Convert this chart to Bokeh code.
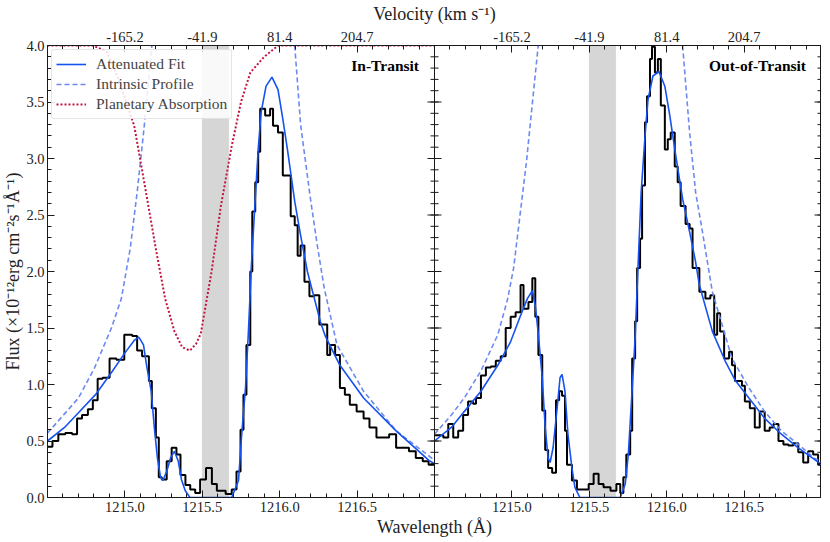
import numpy as np
from bokeh.plotting import figure
from bokeh.models import (Range1d, LinearAxis, FixedTicker, BoxAnnotation, Span,
                          Legend, LegendItem, Label)
from bokeh.embed import file_html
from bokeh.resources import INLINE

nan = float("nan")

# ---------------- data ----------------
WL_MIN, WL_MAX = 1214.5, 1217.0
FLUX_MIN, FLUX_MAX = 0.0, 4.0
MASK_LO, MASK_HI = 1215.50, 1215.67

panel_names = ["In-Transit", "Out-of-Transit"]
legend_labels = ["Attenuated Fit", "Intrinsic Profile", "Planetary Absorption"]

wl_ticks = [1215.0, 1215.5, 1216.0, 1216.5]
wl_tick_labels = ["1215.0", "1215.5", "1216.0", "1216.5"]
vel_tick_labels = ["-165.2", "-41.9", "81.4", "204.7"]
flux_ticks = [0.0, 0.5, 1.0, 1.5, 2.0, 2.5, 3.0, 3.5, 4.0]
flux_tick_labels = ["0.0", "0.5", "1.0", "1.5", "2.0", "2.5", "3.0", "3.5", "4.0"]

# In-transit observed spectrum (bin left edges, flux)
it_wl = [1214.500, 1214.532, 1214.570, 1214.615, 1214.659, 1214.691, 1214.723, 1214.761,
         1214.793, 1214.824, 1214.856, 1214.901, 1214.945, 1214.996, 1215.047, 1215.079,
         1215.111, 1215.155, 1215.174, 1215.200, 1215.219, 1215.238, 1215.270, 1215.302,
         1215.333, 1215.359, 1215.391, 1215.422, 1215.454, 1215.486, 1215.524, 1215.562,
         1215.594, 1215.651, 1215.690, 1215.721, 1215.747, 1215.766, 1215.785, 1215.810,
         1215.823, 1215.842, 1215.861, 1215.874, 1215.906, 1215.938, 1215.957, 1215.989,
         1216.020, 1216.071, 1216.097, 1216.116, 1216.135, 1216.160, 1216.192, 1216.224,
         1216.256, 1216.307, 1216.326, 1216.358, 1216.389, 1216.421, 1216.453, 1216.497,
         1216.542, 1216.580, 1216.625, 1216.707, 1216.752, 1216.835, 1216.879, 1216.924,
         1216.962]
it_flux = [0.45, 0.50, 0.56, 0.57, 0.56, 0.70, 0.73, 0.78, 0.86, 1.05, 1.06, 1.23, 1.22,
           1.44, 1.43, 1.30, 1.25, 1.03, 0.79, 0.53, 0.18, 0.16, 0.32, 0.44, 0.38, 0.20,
           0.11, 0.07, 0.04, 0.16, 0.26, 0.12, 0.06, 0.03, 0.07, 0.23, 0.60, 0.91, 1.35,
           2.00, 2.53, 2.79, 3.06, 3.44, 3.38, 3.44, 3.29, 3.23, 2.85, 2.49, 2.41, 2.14,
           2.23, 1.91, 1.78, 1.79, 1.53, 1.26, 1.35, 1.26, 0.97, 0.91, 0.82, 0.76, 0.70,
           0.62, 0.53, 0.56, 0.44, 0.41, 0.35, 0.32, 0.29]

# Out-of-transit observed spectrum
ot_wl = [1214.500, 1214.526, 1214.557, 1214.589, 1214.621, 1214.653, 1214.685, 1214.717,
         1214.749, 1214.768, 1214.800, 1214.832, 1214.864, 1214.896, 1214.928, 1214.960,
         1214.992, 1215.024, 1215.056, 1215.075, 1215.107, 1215.132, 1215.151, 1215.171,
         1215.196, 1215.215, 1215.234, 1215.260, 1215.285, 1215.305, 1215.324, 1215.343,
         1215.356, 1215.388, 1215.420, 1215.464, 1215.496, 1215.528, 1215.560, 1215.592,
         1215.637, 1215.675, 1215.700, 1215.720, 1215.739, 1215.764, 1215.777, 1215.796,
         1215.809, 1215.828, 1215.841, 1215.860, 1215.873, 1215.892, 1215.905, 1215.924,
         1215.943, 1215.962, 1215.988, 1216.007, 1216.026, 1216.052, 1216.071, 1216.090,
         1216.122, 1216.148, 1216.167, 1216.211, 1216.250, 1216.282, 1216.307, 1216.326,
         1216.345, 1216.371, 1216.403, 1216.422, 1216.441, 1216.486, 1216.505, 1216.537,
         1216.569, 1216.601, 1216.633, 1216.665, 1216.690, 1216.722, 1216.754, 1216.786,
         1216.818, 1216.850, 1216.882, 1216.914, 1216.946, 1216.978]
ot_flux = [0.55, 0.55, 0.53, 0.65, 0.53, 0.59, 0.73, 0.85, 0.83, 0.88, 1.08, 1.15, 1.16,
           1.21, 1.25, 1.50, 1.60, 1.64, 1.88, 1.67, 1.73, 1.94, 1.60, 1.26, 0.77, 0.42,
           0.26, 0.22, 0.86, 0.94, 0.90, 0.59, 0.29, 0.15, 0.07, 0.07, 0.12, 0.21, 0.12,
           0.09, 0.06, 0.12, 0.04, 0.18, 0.38, 0.59, 1.23, 1.56, 2.03, 2.29, 2.76, 3.32,
           3.55, 3.88, 3.99, 3.76, 3.88, 3.47, 3.08, 3.17, 3.23, 2.93, 2.79, 2.58, 2.42,
           2.38, 2.03, 1.82, 1.76, 1.79, 1.44, 1.63, 1.47, 1.23, 1.29, 1.17, 1.03, 0.99,
           0.85, 0.79, 0.62, 0.76, 0.59, 0.62, 0.65, 0.50, 0.47, 0.46, 0.48, 0.40, 0.31,
           0.41, 0.38, 0.29]

# Attenuated fits
it_fit_wl = [1214.50, 1214.61, 1214.70, 1214.81, 1214.92, 1215.00, 1215.06, 1215.09, 1215.12,
             1215.14, 1215.17, 1215.19, 1215.21, 1215.23, 1215.245, 1215.27, 1215.295, 1215.32,
             1215.345, 1215.365, 1215.39, 1215.42, 1215.69, 1215.734, 1215.753, 1215.779,
             1215.798, 1215.817, 1215.842, 1215.861, 1215.880, 1215.912, 1215.950, 1215.989,
             1216.020, 1216.052, 1216.097, 1216.135, 1216.179, 1216.224, 1216.262, 1216.294,
             1216.33, 1216.389, 1216.542, 1216.752, 1216.962, 1217.00]
it_fit_flux = [0.50, 0.62, 0.75, 0.91, 1.12, 1.28, 1.39, 1.42, 1.35, 1.17, 0.94, 0.62, 0.35,
               0.18, 0.15, 0.23, 0.35, 0.41, 0.32, 0.16, 0.06, 0.0, 0.0, 0.15, 0.53, 0.97,
               1.47, 2.05, 2.64, 3.08, 3.41, 3.64, 3.72, 3.61, 3.35, 3.06, 2.62, 2.32, 2.00,
               1.76, 1.56, 1.43, 1.33, 1.17, 0.88, 0.59, 0.33, 0.30]
ot_fit_wl = [1214.500, 1214.609, 1214.692, 1214.800, 1214.909, 1214.992, 1215.056, 1215.100,
             1215.132, 1215.151, 1215.171, 1215.196, 1215.215, 1215.234, 1215.247, 1215.266,
             1215.292, 1215.311, 1215.324, 1215.343, 1215.362, 1215.388, 1215.407, 1215.439,
             1215.700, 1215.732, 1215.752, 1215.771, 1215.796, 1215.815, 1215.835, 1215.860,
             1215.879, 1215.911, 1215.950, 1215.988, 1216.020, 1216.058, 1216.103, 1216.148,
             1216.186, 1216.211, 1216.295, 1216.377, 1216.441, 1216.531, 1216.633, 1216.741,
             1216.850, 1216.952, 1217.000]
ot_fit_flux = [0.50, 0.62, 0.76, 0.94, 1.17, 1.38, 1.61, 1.76, 1.83, 1.70, 1.44, 1.06, 0.62,
               0.35, 0.31, 0.44, 0.79, 1.06, 1.09, 0.94, 0.56, 0.26, 0.09, 0.0, 0.0, 0.12,
               0.38, 0.82, 1.41, 2.05, 2.70, 3.20, 3.52, 3.73, 3.77, 3.64, 3.38, 3.03, 2.64,
               2.35, 2.09, 1.88, 1.47, 1.21, 1.04, 0.88, 0.70, 0.56, 0.44, 0.34, 0.29]

# Intrinsic (unattenuated) profiles; nan = section above the plotted range
it_int_wl = [1214.500, 1214.700, 1214.805, 1214.913, 1214.977, 1215.034, 1215.079, 1215.123,
             1215.174, nan, 1216.097, 1216.135, 1216.199, 1216.243, 1216.288, 1216.370,
             1216.542, 1216.752, 1217.000]
it_int_flux = [0.57, 0.88, 1.15, 1.50, 1.76, 2.20, 2.70, 3.26, 4.00, nan, 4.00, 3.30, 2.64,
               2.23, 1.85, 1.35, 0.94, 0.59, 0.33]
ot_int_wl = [1214.500, 1214.609, 1214.692, 1214.800, 1214.909, 1214.973, 1215.011, 1215.094,
             1215.170, nan, 1216.103, 1216.148, 1216.187, 1216.231, 1216.295, 1216.422,
             1216.531, 1216.633, 1216.741, 1216.850, 1216.952, 1217.000]
ot_int_flux = [0.56, 0.73, 0.88, 1.12, 1.44, 1.76, 2.03, 2.97, 4.00, nan, 4.00, 3.23, 2.70,
               2.35, 1.82, 1.23, 0.97, 0.76, 0.59, 0.47, 0.35, 0.31]

# Planetary absorption (scaled transmission), in-transit only
abs_wl = [1214.50, 1214.79, 1214.88, 1214.96, 1215.06, 1215.13, 1215.20, 1215.26, 1215.32,
          1215.37, 1215.42, 1215.46, 1215.49, 1215.56, 1215.62, 1215.69, 1215.75, 1215.81,
          1215.90, 1215.99, 1217.00]
abs_flux = [4.00, 4.00, 3.95, 3.70, 3.29, 2.75, 2.20, 1.76, 1.47, 1.33, 1.30, 1.36, 1.45,
            2.00, 2.58, 3.11, 3.50, 3.76, 3.90, 4.00, 4.00]

# ---------------- styling ----------------
FONT = "Liberation Serif"
SHIFT = WL_MAX - WL_MIN          # second panel drawn to the right of the first
X_END = WL_MIN + 2 * SHIFT
C_FIT = "#1652f0"
C_INT = "#6d8af0"
C_ABS = "#c3143f"
C_AX = "#1a1a1a"

def sh(arr):
    return [v + SHIFT for v in arr]

p = figure(frame_width=774, frame_height=452, output_backend="svg", toolbar_location=None,
           x_range=Range1d(WL_MIN, X_END), y_range=Range1d(FLUX_MIN, FLUX_MAX),
           min_border_left=0, min_border_right=0, min_border_top=38, min_border_bottom=0)
p.xgrid.visible = False
p.ygrid.visible = False
p.outline_line_color = C_AX
p.background_fill_color = "white"

# ticks
x_major = list(wl_ticks) + sh(wl_ticks)
x_minor_one = [round(v, 2) for v in np.arange(WL_MIN + 0.1, WL_MAX - 0.05, 0.1)]
x_minor = x_minor_one + sh(x_minor_one)
y_minor = [round(v, 2) for v in np.arange(FLUX_MIN, FLUX_MAX + 0.05, 0.1)]
x_lab = {t: l for t, l in zip(x_major, wl_tick_labels * 2)}
v_lab = {t: l for t, l in zip(x_major, vel_tick_labels * 2)}
y_lab = {t: l for t, l in zip(flux_ticks, flux_tick_labels)}

def style(ax, lab_off=4, title_off=3):
    ax.major_tick_in = 7
    ax.major_tick_out = 0
    ax.minor_tick_in = 4
    ax.minor_tick_out = 0
    ax.axis_line_color = C_AX
    ax.major_tick_line_color = C_AX
    ax.minor_tick_line_color = C_AX
    ax.major_label_text_font = FONT
    ax.major_label_text_font_size = "14.5px"
    ax.major_label_text_color = "#222222"
    ax.axis_label_text_font = FONT
    ax.axis_label_text_font_size = "18px"
    ax.axis_label_text_font_style = "normal"
    ax.axis_label_text_color = "#222222"
    ax.major_label_standoff = lab_off
    ax.axis_label_standoff = title_off

xb = p.xaxis[0]
xb.ticker = FixedTicker(ticks=x_major, minor_ticks=x_minor)
xb.major_label_overrides = x_lab
xb.axis_label = "Wavelength (Å)"
style(xb, 4, 2)

yl = p.yaxis[0]
yl.ticker = FixedTicker(ticks=flux_ticks, minor_ticks=y_minor)
yl.major_label_overrides = y_lab
yl.axis_label = "Flux (×10⁻¹²erg cm⁻²s⁻¹Å⁻¹)"
style(yl, 3, 0)

xt = LinearAxis(ticker=FixedTicker(ticks=x_major, minor_ticks=x_minor),
                major_label_overrides=v_lab, axis_label="Velocity (km s⁻¹)")
style(xt, 4, 5)
p.add_layout(xt, "above")

# masked region bands
for off in (0.0, SHIFT):
    p.add_layout(BoxAnnotation(left=MASK_LO + off, right=MASK_HI + off,
                               fill_color="#d6d6d6", fill_alpha=1.0,
                               line_color="#b8b8b8", line_width=1, level="underlay"))

# observed spectra
p.step(x=it_wl + [WL_MAX], y=it_flux + [it_flux[-1]], mode="after",
       line_color="black", line_width=2)
p.step(x=sh(ot_wl + [WL_MAX]), y=ot_flux + [ot_flux[-1]], mode="after",
       line_color="black", line_width=2)

# models
r_int = p.line(it_int_wl, it_int_flux, line_color=C_INT, line_width=1.6, line_dash="5 3")
p.line(sh(ot_int_wl), ot_int_flux, line_color=C_INT, line_width=1.6, line_dash="5 3")
r_abs = p.line(abs_wl, abs_flux, line_color=C_ABS, line_width=2, line_dash="2 2")
r_fit = p.line(it_fit_wl, it_fit_flux, line_color=C_FIT, line_width=1.6)
p.line(sh(ot_fit_wl), ot_fit_flux, line_color=C_FIT, line_width=1.6)

# shared spine between the panels, and inward y ticks on the middle and right spines
p.add_layout(Span(location=WL_MAX, dimension="height", line_color=C_AX, line_width=1))
for xs in (WL_MAX, X_END):
    p.scatter(x=[xs] * len(flux_ticks), y=flux_ticks, marker="dash", size=14,
              line_color=C_AX, line_width=1)
    p.scatter(x=[xs] * len(y_minor), y=y_minor, marker="dash", size=8,
              line_color=C_AX, line_width=1)

# panel labels
for name, off in zip(panel_names, (0.0, SHIFT)):
    p.add_layout(Label(x=WL_MAX - 0.1 + off, y=3.82, text=name, text_align="right",
                       text_baseline="middle", text_font=FONT, text_font_style="bold",
                       text_font_size="15.5px", text_color="black"))

legend = Legend(items=[LegendItem(label=legend_labels[0], renderers=[r_fit]),
                       LegendItem(label=legend_labels[1], renderers=[r_int]),
                       LegendItem(label=legend_labels[2], renderers=[r_abs])],
                location="top_left")
legend.margin = 4
legend.padding = 4
legend.spacing = 0
legend.glyph_width = 30
legend.glyph_height = 20
legend.label_height = 20
legend.label_standoff = 10
legend.label_text_font = FONT
legend.label_text_font_size = "15.5px"
legend.border_line_color = "#cccccc"
legend.border_line_width = 1
legend.background_fill_color = "white"
legend.background_fill_alpha = 0.85
if "border_radius" in Legend.properties():
    legend.border_radius = 3
p.add_layout(legend)

open("out.html", "w").write(file_html(p, INLINE))
